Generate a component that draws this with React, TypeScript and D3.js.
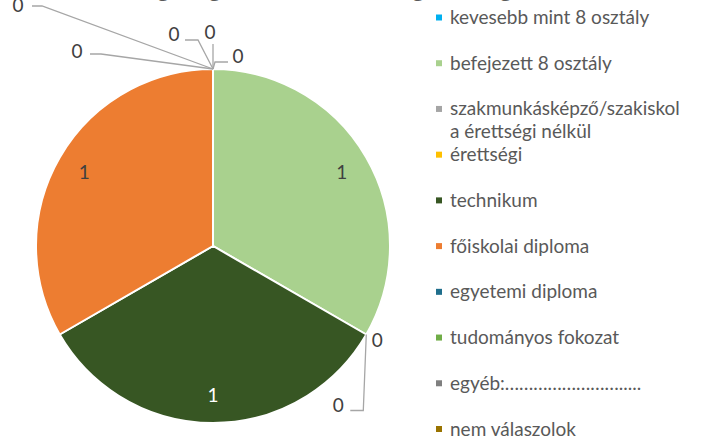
import React from "react";
import * as d3 from "d3";

const categories = [
  "kevesebb mint 8 osztály",
  "befejezett 8 osztály",
  "szakmunkásképző/szakiskola érettségi nélkül",
  "érettségi",
  "technikum",
  "főiskolai diploma",
  "egyetemi diploma",
  "tudományos fokozat",
  "egyéb:…………………….....",
  "nem válaszolok",
];
const values = [0, 1, 0, 0, 1, 1, 0, 0, 0, 0];
const colors = [
  "#00B0F0",
  "#A9D18E",
  "#A5A5A5",
  "#FFC000",
  "#375623",
  "#ED7D31",
  "#1F6E8C",
  "#70AD47",
  "#7F7F7F",
  "#997300",
];
const legendLines = [
  ["kevesebb mint 8 osztály"],
  ["befejezett 8 osztály"],
  ["szakmunkásképző/szakiskol", "a érettségi nélkül"],
  ["érettségi"],
  ["technikum"],
  ["főiskolai diploma"],
  ["egyetemi diploma"],
  ["tudományos fokozat"],
  ["egyéb:……………………....."],
  ["nem válaszolok"],
];
const title = "Legmagasabb iskolai végzettség";

// layout for zero-value labels (offsets from slice anchor): text offset and leader points
const zeroLayout: Record<number, { t: [number, number]; pts: [number, number][] }> = {
  0: { t: [25, -14], pts: [[2, -7], [15, -7]] },
  2: { t: [11, 5], pts: [] },
  3: { t: [-28, 70], pts: [[-3, 76], [-16, 76]] },
  6: { t: [-3, -38], pts: [[0, -25]] },
  7: { t: [-39, -36], pts: [[-15, -29], [-28, -29]] },
  8: { t: [-136, -19], pts: [[-112, -15], [-123, -15]] },
  9: { t: [-195, -65], pts: [[-171, -63], [-181, -63]] },
};

const W = 707;
const H = 436;
const cx = 213;
const cy = 246;
const R = 177;
const FONT = "Lato, 'Open Sans', sans-serif";

export default function App() {
  const pie = d3
    .pie<number>()
    .sort(null)
    .value((d) => d)
    .startAngle(0)
    .endAngle(2 * Math.PI);
  const arcs = pie(values);
  const arc = d3.arc<d3.PieArcDatum<number>>().innerRadius(0).outerRadius(R);
  const labelArc = d3
    .arc<d3.PieArcDatum<number>>()
    .innerRadius(R * 0.84)
    .outerRadius(R * 0.84);

  const legendY = d3
    .scalePoint<number>()
    .domain(d3.range(categories.length))
    .range([17.5, 429]);

  return (
    <svg
      width={W}
      height={H}
      style={{ position: "absolute", left: 0, top: 0, background: "#fff" }}
      fontFamily={FONT}
    >
      <text x={128} y={-4} fontSize={28} fill="#595959" textLength={385}>
        {title}
      </text>
      <g transform={`translate(${cx},${cy})`}>
        {arcs.map((a, i) =>
          a.value > 0 ? (
            <path key={i} d={arc(a) || ""} fill={colors[i]} stroke="#fff" strokeWidth={2} />
          ) : null
        )}
        {arcs.map((a, i) => {
          if (a.value > 0) {
            const [x, y] = labelArc.centroid(a);
            const dark = d3.hsl(colors[i]).l < 0.35;
            return (
              <text
                key={"l" + i}
                x={x}
                y={y}
                textAnchor="middle"
                dominantBaseline="central"
                fontSize={19}
                fill={dark ? "#FFFFFF" : "#404040"}
              >
                {a.value}
              </text>
            );
          }
          const lay = zeroLayout[i];
          if (!lay) return null;
          const ax = Math.sin(a.startAngle) * R;
          const ay = -Math.cos(a.startAngle) * R;
          const pts: [number, number][] = [
            [ax, ay],
            ...lay.pts.map(([dx, dy]) => [ax + dx, ay + dy] as [number, number]),
          ];
          return (
            <g key={"l" + i}>
              {pts.length > 1 && (
                <polyline
                  points={pts.map((p) => p.join(",")).join(" ")}
                  fill="none"
                  stroke="#A6A6A6"
                  strokeWidth={1.3}
                />
              )}
              <text
                x={ax + lay.t[0]}
                y={ay + lay.t[1]}
                textAnchor="middle"
                dominantBaseline="central"
                fontSize={19}
                fill="#404040"
              >
                {a.value}
              </text>
            </g>
          );
        })}
      </g>
      <g>
        {categories.map((c, i) => {
          const y = legendY(i) as number;
          return (
            <g key={c}>
              <rect x={436} y={y - 3} width={6} height={6} fill={colors[i]} />
              {legendLines[i].map((ln, j) => (
                <text key={j} x={450} y={y + 6.5 + j * 23} fontSize={19} fill="#595959">
                  {ln}
                </text>
              ))}
            </g>
          );
        })}
      </g>
    </svg>
  );
}
